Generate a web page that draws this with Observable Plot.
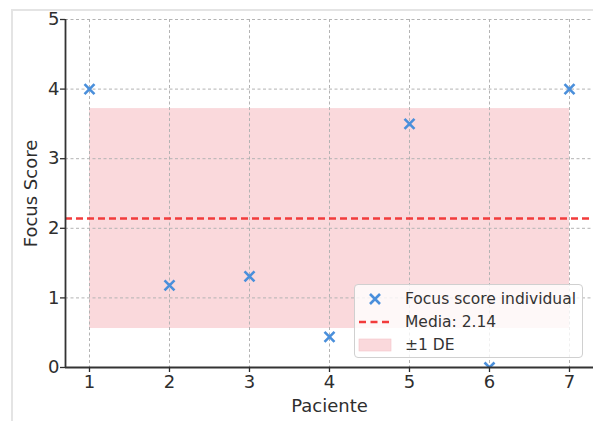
<!DOCTYPE html>
<html>
<head>
<meta charset="utf-8">
<script src="https://cdn.jsdelivr.net/npm/d3@7"></script>
<script src="https://cdn.jsdelivr.net/npm/@observablehq/plot@0.6"></script>
<style>
  html, body { margin: 0; padding: 0; background: #fff; }
  #wrap { position: relative; width: 593px; height: 421px; overflow: hidden; font-family: "DejaVu Sans", sans-serif; }
  #shot-frame { position: absolute; left: 11px; top: 9px; right: -5px; bottom: -5px;
    border-left: 2px solid #e4e4e4; border-top: 2px solid #e4e4e4; pointer-events: none; }
  #legend { position: absolute; left: 354px; top: 284px; width: 229px; height: 74px; box-sizing: border-box;
    border: 1px solid #d0d0d0; border-radius: 4px; background: rgba(255,255,255,0.8);
    font-size: 15.5px; color: #333; }
  #legend .row { position: absolute; left: 0; height: 22px; display: flex; align-items: center; }
  #legend .sw { width: 40px; display: flex; justify-content: center; }
  #legend .lbl { margin-left: 10px; white-space: nowrap; }
</style>
</head>
<body>
<div id="wrap">
  <div id="chart"></div>
  <div id="legend"></div>
  <div id="shot-frame"></div>
</div>
<script>
// ---- data ----
const pacientes = [1, 2, 3, 4, 5, 6, 7];
const focusScores = [4.0, 1.18, 1.31, 0.44, 3.5, 0.0, 4.0];
const media = 2.14;
const desviacion = 1.58;
const xTicks = [1, 2, 3, 4, 5, 6, 7];
const yTicks = [0, 1, 2, 3, 4, 5];
const legendLabels = ["Focus score individual", "Media: 2.14", "\u00b11 DE"];

// ---- styles ----
const blue = "#4a8fdb";
const red = "#f23c3c";
const band = "#fad9dc";
const ink = "#2e2e2e";

const points = pacientes.map((p, i) => ({paciente: p, score: focusScores[i]}));
const bandData = [{x1: d3.min(pacientes), x2: d3.max(pacientes), y1: media - desviacion, y2: media + desviacion}];
const xDomain = [0.7, 7.3];

const chart = Plot.plot({
  width: 593,
  height: 421,
  marginLeft: 65,
  marginRight: 0,
  marginTop: 19,
  marginBottom: 54,
  style: {fontFamily: "DejaVu Sans, sans-serif", color: ink, background: "transparent"},
  x: {domain: xDomain},
  y: {domain: [0, 5]},
  marks: [
    Plot.rect(bandData, {x1: "x1", x2: "x2", y1: "y1", y2: "y2", fill: band}),
    Plot.gridX(xTicks, {stroke: "#b3b3b3", strokeOpacity: 1, strokeWidth: 1, strokeDasharray: "3,2.5"}),
    Plot.gridY(yTicks, {stroke: "#b3b3b3", strokeOpacity: 1, strokeWidth: 1, strokeDasharray: "3,2.5"}),
    Plot.ruleY([media], {stroke: red, strokeWidth: 2.4, strokeDasharray: "7,4"}),
    Plot.dot(points, {x: "paciente", y: "score", symbol: "times", r: 4.6, stroke: blue, strokeWidth: 2.6, clip: true}),
    Plot.ruleY([0], {stroke: "#333", strokeWidth: 1.8}),
    Plot.ruleX([xDomain[0]], {stroke: "#333", strokeWidth: 1.8}),
    Plot.axisX(xTicks, {tickSize: 5, tickPadding: 3, fontSize: 18, strokeWidth: 1.3, tickFormat: "d", label: null}),
    Plot.axisY(yTicks, {tickSize: 5, tickPadding: 1, fontSize: 18, strokeWidth: 1.3, tickFormat: "d", label: null}),
    Plot.text(["Paciente"], {frameAnchor: "bottom", dy: 39, lineAnchor: "middle", textAnchor: "middle", fontSize: 18, fill: ink}),
    Plot.text(["Focus Score"], {frameAnchor: "left", dx: -34, rotate: -90, lineAnchor: "middle", textAnchor: "middle", fontSize: 18, fill: ink})
  ]
});
document.getElementById("chart").appendChild(chart);

// ---- legend ----
const legend = document.getElementById("legend");
const swatches = [
  `<svg width="34" height="14"><path d="M12,2L22,12M22,2L12,12" stroke="${blue}" stroke-width="2.6"/></svg>`,
  `<svg width="34" height="14"><line x1="1" y1="7" x2="33" y2="7" stroke="${red}" stroke-width="2.4" stroke-dasharray="7,4.5"/></svg>`,
  `<svg width="34" height="14"><rect x="1" y="1" width="32" height="12" fill="${band}" stroke="#f3c4c8" stroke-width="0.6"/></svg>`
];
const rowTops = [3, 26, 49];
legendLabels.forEach((t, i) => {
  const row = document.createElement("div");
  row.className = "row";
  row.style.top = rowTops[i] + "px";
  row.innerHTML = `<span class="sw">${swatches[i]}</span><span class="lbl">${t}</span>`;
  legend.appendChild(row);
});
</script>
</body>
</html>
